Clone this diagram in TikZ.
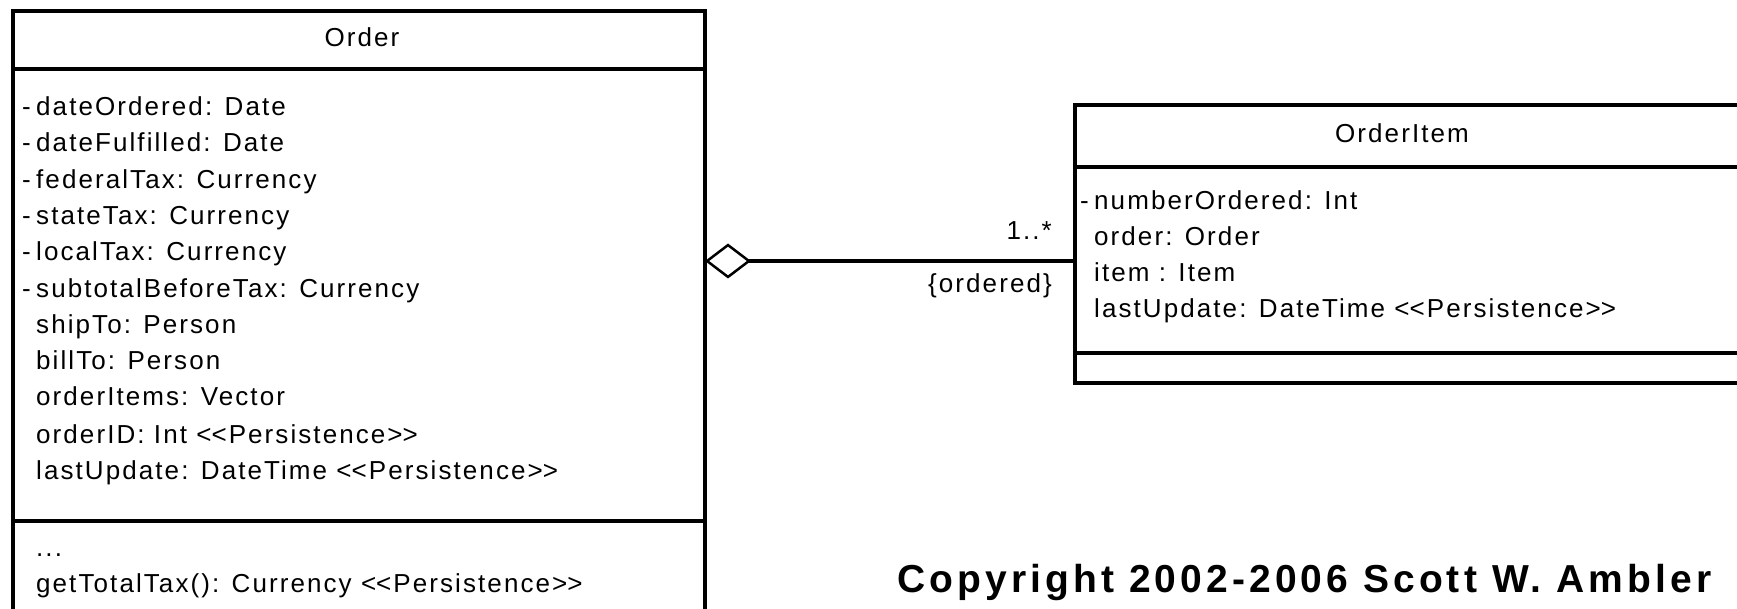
\documentclass[tikz,border=0pt]{standalone}
\usepackage{fontspec}
\setmainfont{Liberation Sans}[LetterSpace=8]
\newfontfamily\copyfont{Liberation Sans}[LetterSpace=10.5]
\usetikzlibrary{arrows.meta}
\newcommand\vis[1]{\makebox[14pt][l]{#1}}
\newcommand\pers{<\kern0pt<Persistence>\kern0pt>}
\begin{document}
\begin{tikzpicture}[x=1pt,y=-1pt,
  box/.style={draw, line width=3.5pt, inner sep=0pt, outer sep=0pt, anchor=north west},
  rule/.style={line width=3.5pt},
  txt/.style={inner sep=0pt, anchor=base west, font=\fontsize{26}{36}\selectfont},
  ttl/.style={inner sep=0pt, anchor=base, font=\fontsize{26}{36}\selectfont},
  lbl/.style={inner sep=0pt, anchor=base east, font=\fontsize{26}{36}\selectfont},
  assoc/.style={line width=3.5pt, arrows={Diamond[open,fill=white,length=46pt,width=35pt,line width=2.5pt]-}}]
\useasboundingbox (0,0) rectangle (1737,609);
\fill[white] (0,0) rectangle (1737,609);
\clip (0,0) rectangle (1737,609);
% Order class
\node[box, minimum width=692pt, minimum height=640pt] (order) at (13,11) {};
\draw[rule] (order.west |- 0,69) -- (order.east |- 0,69);
\draw[rule] (order.west |- 0,521) -- (order.east |- 0,521);
\node[ttl] (ordertitle) at (362,47) {Order};
\node[txt] (oa1) at (22,116) {\vis{-}dateOrdered: Date};
\node[txt] (oa2) at (22,152) {\vis{-}dateFulfilled: Date};
\node[txt] (oa3) at (22,189) {\vis{-}federalTax: Currency};
\node[txt] (oa4) at (22,225) {\vis{-}stateTax: Currency};
\node[txt] (oa5) at (22,261) {\vis{-}localTax: Currency};
\node[txt] (oa6) at (22,298) {\vis{-}subtotalBeforeTax: Currency};
\node[txt] (oa7) at (22,334) {\vis{}shipTo: Person};
\node[txt] (oa8) at (22,370) {\vis{}billTo: Person};
\node[txt] (oa9) at (22,406) {\vis{}orderItems: Vector};
\node[txt] (oa10) at (22,443) {\vis{}orderID: Int \pers};
\node[txt] (oa11) at (22,479) {\vis{}lastUpdate: DateTime \pers};
\node[txt] (om1) at (22,556) {\vis{}...};
\node[txt] (om2) at (22,592) {\vis{}getTotalTax(): Currency \pers};
% OrderItem class
\node[box, minimum width=665pt, minimum height=278pt] (item) at (1075,105) {};
\draw[rule] (item.west |- 0,167) -- (item.east |- 0,167);
\draw[rule] (item.west |- 0,353) -- (item.east |- 0,353);
\node[ttl] (itemtitle) at (1402,143) {OrderItem};
\node[txt] (ia1) at (1080,210) {\vis{-}numberOrdered: Int};
\node[txt] (ia2) at (1080,246) {\vis{}order: Order};
\node[txt] (ia3) at (1080,282) {\vis{}item : Item};
\node[txt] (ia4) at (1080,318) {\vis{}lastUpdate: DateTime \pers};
% aggregation
\coordinate (aggL) at (order.east |- 0,261);
\coordinate (aggR) at (item.west |- 0,261);
\draw[assoc] (aggL) -- (aggR);
\node[lbl] (mult) at (1052,240) {1..*};
\node[lbl] (cons) at (1052,293) {\{ordered\}};
% copyright
\node[inner sep=0pt, anchor=base west, font=\copyfont\bfseries\fontsize{39}{44}\selectfont] (copy) at (897,592) {Copyright 2002-2006 Scott W. Ambler};
\end{tikzpicture}
\end{document}
